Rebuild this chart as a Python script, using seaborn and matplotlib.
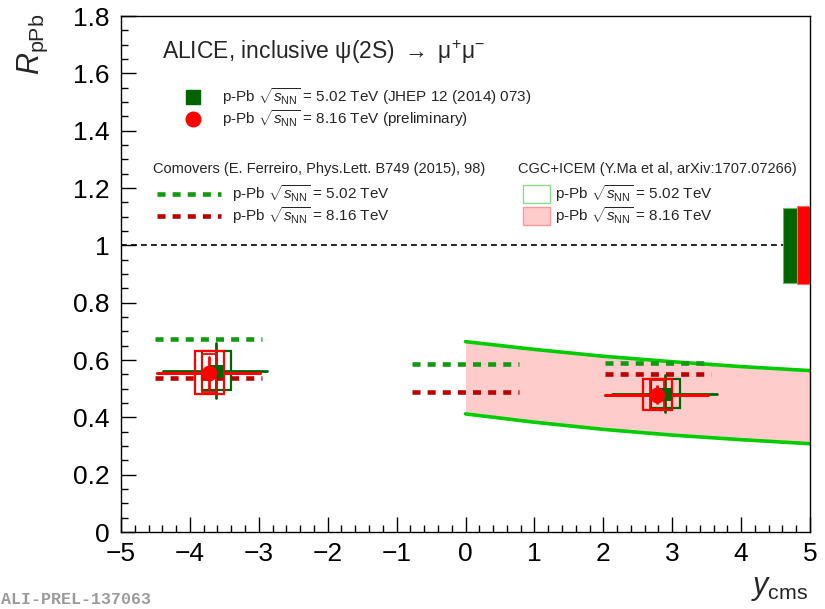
import numpy as np
import pandas as pd
import matplotlib
matplotlib.use("Agg")
import matplotlib.pyplot as plt
from matplotlib.patches import Rectangle
from matplotlib.ticker import MultipleLocator, FuncFormatter
import seaborn as sns

# ---------------- data ----------------
# ALICE psi(2S) RpPb, 5.02 TeV (green, slightly shifted in x) and 8.16 TeV (red)
y502 = [-3.62, 2.90]
r502 = [0.563, 0.483]
xlo502 = [-4.39, 2.13]
xhi502 = [-2.88, 3.65]
stat502 = [0.096, 0.065]
syst502 = [0.068, 0.052]

y816 = [-3.72, 2.78]
r816 = [0.556, 0.479]
xlo816 = [-4.48, 2.02]
xhi816 = [-2.98, 3.52]
stat816 = [0.056, 0.030]
syst816 = [0.075, 0.054]
systu816 = [0.066, 0.050]

# global uncertainties at unity
glob502 = 0.131
glob816 = 0.136

# Comovers (E. Ferreiro)
como_lo = [-4.50, -0.78, 2.03]
como_hi = [-2.95, 0.77, 3.57]
como502 = [0.675, 0.587, 0.588]
como816 = [0.538, 0.490, 0.552]

# CGC+ICEM band (8.16 TeV)
cgc_y = [0, 1, 2, 3, 4, 5]
cgc_up = [0.664, 0.637, 0.613, 0.594, 0.577, 0.563]
cgc_lo = [0.412, 0.383, 0.358, 0.338, 0.322, 0.308]

xticks = [-5, -4, -3, -2, -1, 0, 1, 2, 3, 4, 5]

# ---------------- style ----------------
sns.set_theme(style="ticks")
plt.rcParams['font.family'] = ['Liberation Sans', 'DejaVu Sans']
plt.rcParams['mathtext.fontset'] = 'custom'
plt.rcParams['mathtext.rm'] = 'Liberation Sans'
plt.rcParams['mathtext.it'] = 'Liberation Sans:italic'
plt.rcParams['mathtext.bf'] = 'Liberation Sans:bold'

W, H = 825, 609
fig = plt.figure(figsize=(W / 100, H / 100), dpi=100)
fig.patch.set_facecolor('white')
L, R, T, B = 121, 810, 16, 532
ax = fig.add_axes([L / W, 1 - B / H, (R - L) / W, (B - T) / H])
ax.set_facecolor('white')
ax.set_xlim(-5, 5)
ax.set_ylim(0, 1.8)

GD = '#006400'   # dark green data
RD = '#ff0000'   # red data
GC = '#119911'   # comovers green
RC = '#bb0000'   # comovers red
GB = '#00cc00'   # CGC edge green
PF = '#ffcccc'   # CGC fill

# CGC band
ax.fill_between(cgc_y, cgc_lo, cgc_up, color=PF, lw=0, zorder=1)
dfc = pd.DataFrame({'y': cgc_y * 2, 'R': cgc_up + cgc_lo,
                    'edge': ['up'] * len(cgc_y) + ['lo'] * len(cgc_y)})
sns.lineplot(data=dfc, x='y', y='R', units='edge', estimator=None, color=GB,
             lw=2.6, ax=ax, zorder=2, legend=False)

# unity line
ax.axhline(1.0, color='black', lw=1.2, ls=(0, (3.5, 2.5)), zorder=2)

# global boxes
ax.add_patch(Rectangle((4.61, 1 - glob502), 0.20, 2 * glob502, facecolor=GD,
                       edgecolor='#66bb66', lw=0.8, zorder=3))
ax.add_patch(Rectangle((4.81, 1 - glob816), 0.19, 2 * glob816, facecolor=RD,
                       edgecolor='#ff6666', lw=0.8, zorder=3))

# comovers
dash = (0, (1.75, 1.55))
for lo, hi, g, r in zip(como_lo, como_hi, como502, como816):
    ax.plot([lo, hi], [g, g], color=GC, lw=3.3, ls=dash, zorder=3)
    ax.plot([lo, hi], [r, r], color=RC, lw=3.3, ls=dash, zorder=3)

# data: 5.02 TeV
for x, r, lo, hi, st, sy in zip(y502, r502, xlo502, xhi502, stat502, syst502):
    ax.add_patch(Rectangle((x - 0.21, r - sy), 0.42, 2 * sy, fill=False,
                           edgecolor=GD, lw=1.6, zorder=4))
    ax.plot([lo, hi], [r, r], color=GD, lw=2.0, zorder=4)
    ax.plot([x, x], [r - st, r + st], color=GD, lw=2.0, zorder=4)
# data: 8.16 TeV
for x, r, lo, hi, st, sy, su in zip(y816, r816, xlo816, xhi816, stat816,
                                    syst816, systu816):
    ax.add_patch(Rectangle((x - 0.21, r - sy), 0.42, 2 * sy, fill=False,
                           edgecolor=RD, lw=1.6, zorder=5))
    ax.add_patch(Rectangle((x - 0.10, r - su), 0.20, 2 * su, fill=False,
                           edgecolor=RD, lw=1.3, zorder=5))
    ax.plot([lo, hi], [r, r], color=RD, lw=2.2, zorder=5)
    ax.plot([x, x], [r - st, r + st], color=RD, lw=2.0, zorder=5)

dfp = pd.DataFrame({'y': y502 + y816, 'R': r502 + r816,
                    'E': ['5.02'] * 2 + ['8.16'] * 2})
sns.scatterplot(data=dfp[dfp.E == '5.02'], x='y', y='R', marker='s', s=85,
                color=GD, edgecolor=GD, ax=ax, zorder=6, legend=False)
sns.scatterplot(data=dfp[dfp.E == '8.16'], x='y', y='R', marker='o', s=110,
                color=RD, edgecolor=RD, ax=ax, zorder=7, legend=False)

# axes style
ax.set_xlabel('')
ax.set_ylabel('')
ax.set_xticks(xticks)
ax.xaxis.set_minor_locator(MultipleLocator(0.2))
ax.yaxis.set_major_locator(MultipleLocator(0.2))
ax.yaxis.set_minor_locator(MultipleLocator(0.05))
ax.yaxis.set_major_formatter(FuncFormatter(lambda v, p: '%g' % round(v, 2)))
ax.tick_params(which='both', direction='in', top=False, right=False,
               colors='black', width=1.0)
ax.tick_params(which='major', length=11, labelsize=19)
ax.tick_params(which='minor', length=5.2)
ax.tick_params(axis='x', pad=7)
ax.tick_params(axis='y', pad=8)
for s in ax.spines.values():
    s.set_color('black')
    s.set_linewidth(1.0)
    s.set_visible(True)


def fx(px):
    return px / W


def fy(py):
    return 1 - py / H


# axis titles
fig.text(fx(33), fy(14), r'$R_{\rm pPb}$', rotation=90, ha='center', va='top',
         fontsize=22)
fig.text(fx(808), fy(603), r'$y_{\rm cms}$', ha='right', va='bottom',
         fontsize=22)

# title
fig.text(fx(162), fy(52), r'ALICE, inclusive ψ(2S) $\rightarrow$ μ$^{+}$μ$^{-}$',
         ha='left', va='center', fontsize=16.5)

sq = r'$\sqrt{s_{\rm NN}}$'
fig.lines.append(plt.Line2D([fx(193)], [fy(97)], marker='s', ms=9.5, color=GD,
                            transform=fig.transFigure))
fig.lines.append(plt.Line2D([fx(193)], [fy(119)], marker='o', ms=10.5, color=RD,
                            transform=fig.transFigure))
fig.text(fx(222), fy(97), 'p-Pb ' + sq + ' = 5.02 TeV (JHEP 12 (2014) 073)',
         ha='left', va='center', fontsize=11)
fig.text(fx(222), fy(119), 'p-Pb ' + sq + ' = 8.16 TeV (preliminary)',
         ha='left', va='center', fontsize=11)

# comovers legend
fig.text(fx(153), fy(169), 'Comovers (E. Ferreiro, Phys.Lett. B749 (2015), 98)',
         ha='left', va='center', fontsize=10.5)
fig.lines.append(plt.Line2D([fx(157), fx(221)], [fy(194), fy(194)], color=GC,
                            lw=3.3, ls=dash, transform=fig.transFigure))
fig.lines.append(plt.Line2D([fx(157), fx(221)], [fy(216), fy(216)], color=RC,
                            lw=3.3, ls=dash, transform=fig.transFigure))
fig.text(fx(232), fy(194), 'p-Pb ' + sq + ' = 5.02 TeV', ha='left',
         va='center', fontsize=11)
fig.text(fx(232), fy(216), 'p-Pb ' + sq + ' = 8.16 TeV', ha='left',
         va='center', fontsize=11)

# CGC legend
fig.text(fx(518), fy(169), 'CGC+ICEM (Y.Ma et al, arXiv:1707.07266)',
         ha='left', va='center', fontsize=10.5)
fig.patches.append(Rectangle((fx(523), fy(203)), 27 / W, 18 / H, fill=False,
                             edgecolor='#88dd88', lw=1.0,
                             transform=fig.transFigure))
fig.patches.append(Rectangle((fx(523), fy(225)), 27 / W, 18 / H,
                             facecolor=PF, edgecolor='#ff9999', lw=1.0,
                             transform=fig.transFigure))
fig.text(fx(555), fy(194), 'p-Pb ' + sq + ' = 5.02 TeV', ha='left',
         va='center', fontsize=11)
fig.text(fx(555), fy(216), 'p-Pb ' + sq + ' = 8.16 TeV', ha='left',
         va='center', fontsize=11)

fig.text(fx(1), fy(600), 'ALI-PREL-137063', family='Liberation Mono',
         weight='bold', color='#9a9a9a', fontsize=12, ha='left', va='center')

fig.savefig('out.png', dpi=100, facecolor='white')
